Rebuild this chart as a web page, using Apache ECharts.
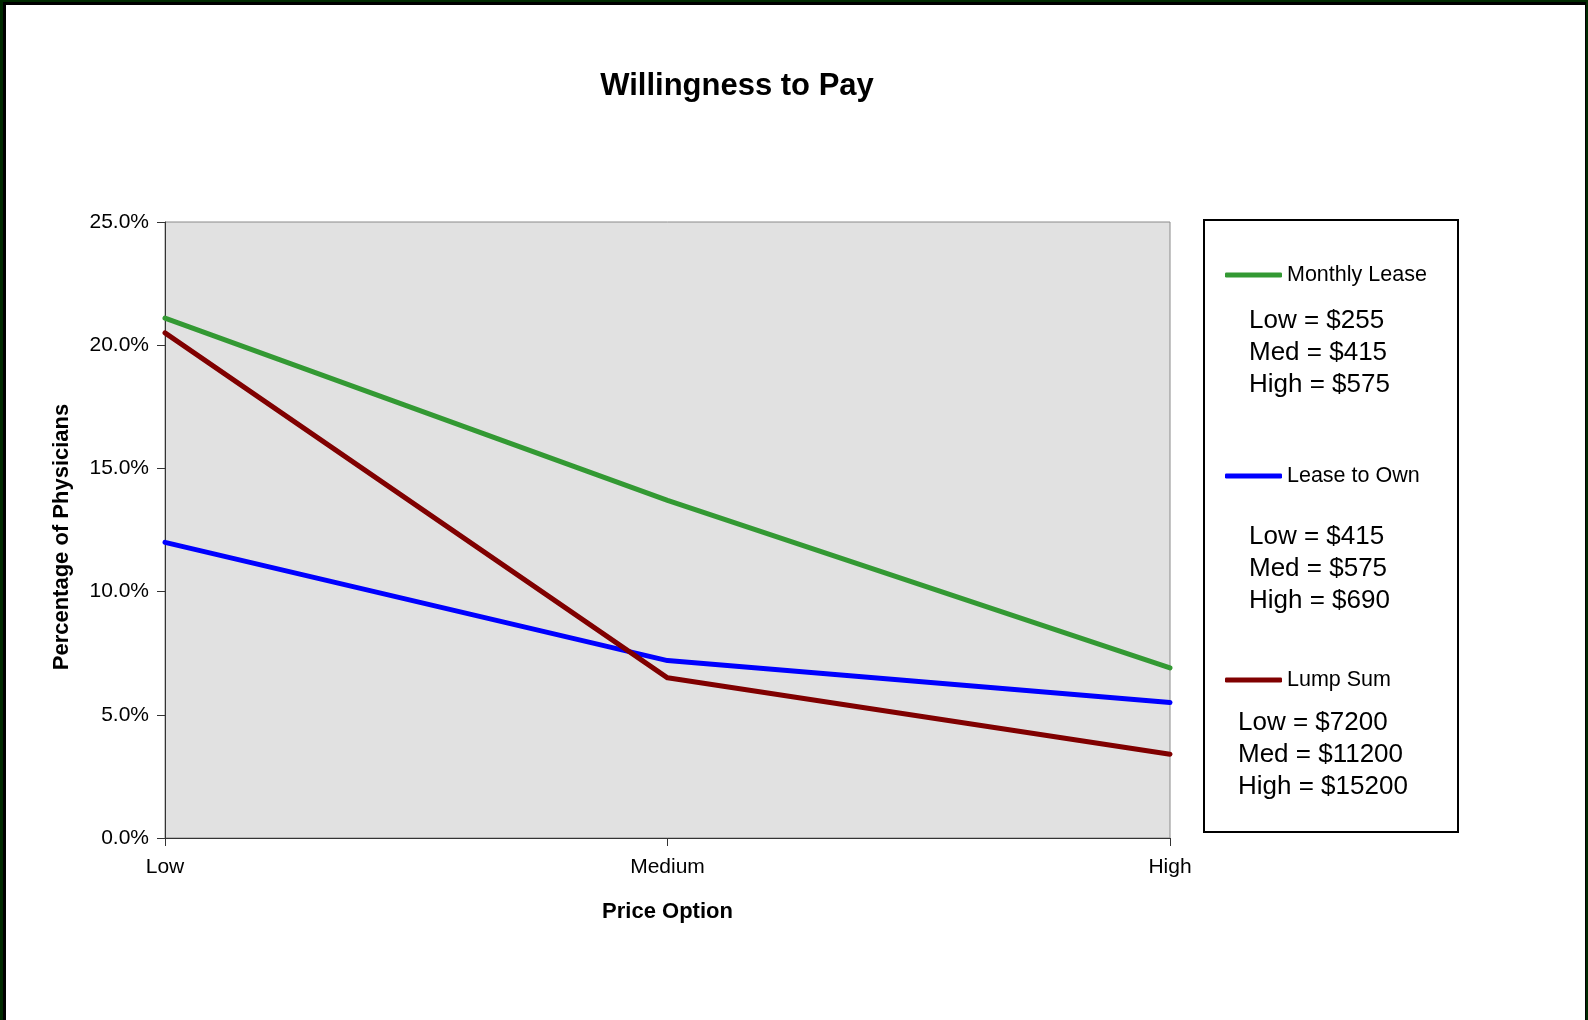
<!DOCTYPE html>
<html>
<head>
<meta charset="utf-8">
<title>Willingness to Pay</title>
<script src="https://cdn.jsdelivr.net/npm/echarts@6/dist/echarts.min.js"></script>
<style>
  html, body { margin: 0; padding: 0; background: #ffffff; }
  #chart { width: 1588px; height: 1020px; }
</style>
</head>
<body>
<div id="chart"></div>
<script>
// Price options along the horizontal axis
const categories = ['Low', 'Medium', 'High'];

// Share of physicians willing to pay at each price option (%)
const monthlyLease = [21.1, 13.7, 6.9];
const leaseToOwn = [12.0, 7.2, 5.5];
const lumpSum = [20.5, 6.5, 3.4];

// Vertical axis range (%)
const yMin = 0;
const yMax = 25;
const yStep = 5;

// Price points listed under each legend entry
const monthlyLeasePrices = ['Low = $255', 'Med = $415', 'High = $575'];
const leaseToOwnPrices = ['Low = $415', 'Med = $575', 'High = $690'];
const lumpSumPrices = ['Low = $7200', 'Med = $11200', 'High = $15200'];

const FONT = 'Arial, "Liberation Sans", Helvetica, sans-serif';
const COLORS = { monthly: '#339933', own: '#0000ff', lump: '#800000' };

const chart = echarts.init(document.getElementById('chart'), null, { renderer: 'canvas' });

function lineSeries(name, data, color) {
  return {
    name: name,
    type: 'line',
    data: data,
    symbol: 'none',
    smooth: false,
    lineStyle: { color: color, width: 5, cap: 'round', join: 'round' },
    itemStyle: { color: color },
    emphasis: { disabled: true },
    z: 3
  };
}

function legendAt(name, centerY) {
  return {
    data: [name],
    left: 1225,
    top: centerY - 11,
    padding: 0,
    orient: 'vertical',
    selectedMode: false,
    icon: 'roundRect',
    itemWidth: 57,
    itemHeight: 5,
    textStyle: { fontFamily: FONT, fontSize: 21.5, color: '#000', lineHeight: 22 }
  };
}

function priceBlock(lines, x, firstCenterY) {
  return {
    type: 'text',
    left: x,
    top: firstCenterY - 16,
    style: {
      text: lines.join('\n'),
      font: '26px ' + FONT,
      fill: '#000',
      lineHeight: 32
    },
    silent: true
  };
}

const option = {
  backgroundColor: '#ffffff',
  animation: false,
  grid: {
    left: 165,
    right: 418,
    top: 222,
    bottom: 182,
    show: true,
    backgroundColor: '#e1e1e1',
    borderColor: '#8a8a8a',
    borderWidth: 1,
    containLabel: false
  },
  xAxis: {
    type: 'category',
    data: categories,
    boundaryGap: false,
    name: 'Price Option',
    nameLocation: 'middle',
    nameGap: 63,
    nameTextStyle: { fontFamily: FONT, fontSize: 22, fontWeight: 'bold', color: '#000' },
    axisLine: { show: true, lineStyle: { color: '#333', width: 1 } },
    axisTick: { show: true, alignWithLabel: true, inside: false, length: 8, lineStyle: { color: '#333' } },
    axisLabel: { fontFamily: FONT, fontSize: 21, color: '#000', margin: 19 },
    splitLine: { show: false }
  },
  yAxis: {
    type: 'value',
    min: yMin,
    max: yMax,
    interval: yStep,
    name: 'Percentage of Physicians',
    nameLocation: 'middle',
    nameGap: 92,
    nameTextStyle: {
      fontFamily: FONT, fontSize: 22, fontWeight: 'bold', color: '#000',
      padding: [0, 14, 0, 0]
    },
    axisLine: { show: true, lineStyle: { color: '#333', width: 1 } },
    axisTick: { show: true, inside: false, length: 8, lineStyle: { color: '#333' } },
    axisLabel: {
      fontFamily: FONT, fontSize: 21, color: '#000', margin: 16,
      formatter: v => v.toFixed(1) + '%'
    },
    splitLine: { show: false }
  },
  legend: [
    legendAt('Monthly Lease', 275),
    legendAt('Lease to Own', 476),
    legendAt('Lump Sum', 680)
  ],
  series: [
    lineSeries('Monthly Lease', monthlyLease, COLORS.monthly),
    lineSeries('Lease to Own', leaseToOwn, COLORS.own),
    lineSeries('Lump Sum', lumpSum, COLORS.lump)
  ],
  graphic: [
    // outer frame: dark edges on left, top and right
    { type: 'rect', shape: { x: 0, y: 0, width: 6, height: 1020 }, style: { fill: '#000000' }, silent: true, z: 10 },
    { type: 'rect', shape: { x: 0, y: 0, width: 3, height: 1020 }, style: { fill: '#002a00' }, silent: true, z: 11 },
    { type: 'rect', shape: { x: 0, y: 0, width: 1588, height: 5 }, style: { fill: '#000000' }, silent: true, z: 10 },
    { type: 'rect', shape: { x: 0, y: 0, width: 1588, height: 2 }, style: { fill: '#002a00' }, silent: true, z: 11 },
    { type: 'rect', shape: { x: 1585, y: 0, width: 3, height: 1020 }, style: { fill: '#000000' }, silent: true, z: 10 },
    { type: 'rect', shape: { x: 1586, y: 0, width: 2, height: 1020 }, style: { fill: '#002a00' }, silent: true, z: 11 },
    // chart title
    {
      type: 'text',
      x: 737,
      y: 86,
      style: {
        text: 'Willingness to Pay',
        font: 'bold 31px ' + FONT,
        fill: '#000',
        align: 'center',
        verticalAlign: 'middle'
      },
      silent: true
    },
    // legend frame
    {
      type: 'rect',
      shape: { x: 1204, y: 220, width: 254, height: 612 },
      style: { fill: '#ffffff', stroke: '#000000', lineWidth: 2 },
      silent: true,
      z: -1
    },
    priceBlock(monthlyLeasePrices, 1249, 321),
    priceBlock(leaseToOwnPrices, 1249, 537),
    priceBlock(lumpSumPrices, 1238, 723)
  ]
};

chart.setOption(option);
</script>
</body>
</html>
